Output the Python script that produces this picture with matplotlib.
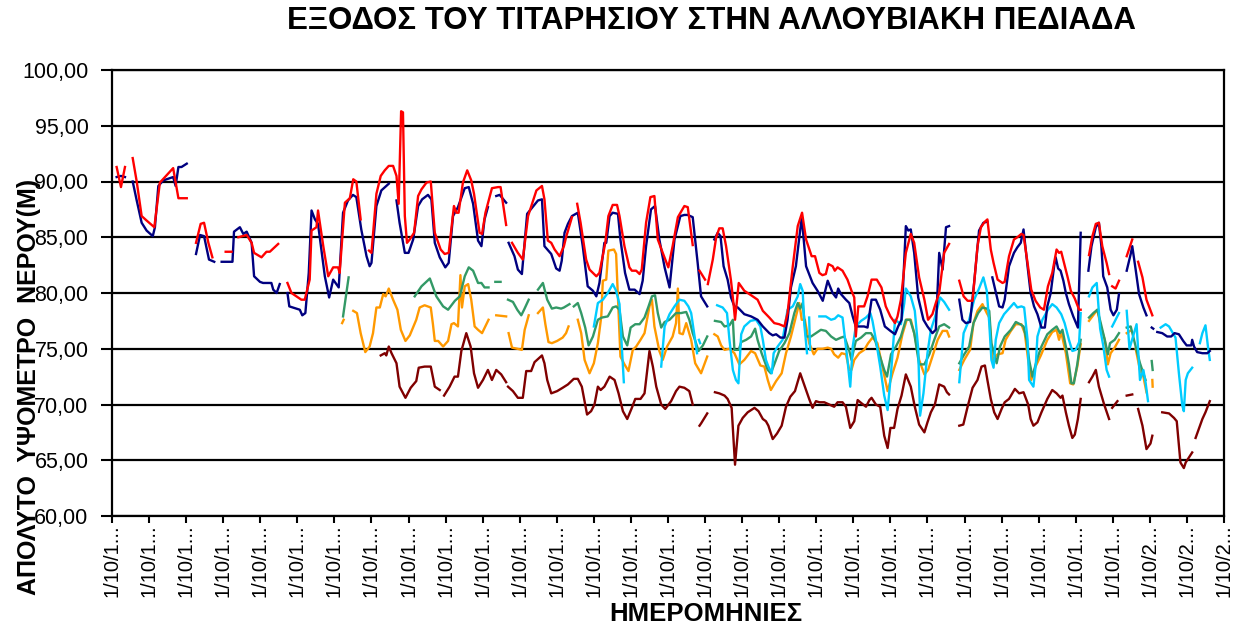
import matplotlib
matplotlib.use("Agg")
import matplotlib.pyplot as plt
import numpy as np

plt.rcParams['font.family'] = ['Liberation Sans', 'DejaVu Sans']

title = "ΕΞΟΔΟΣ ΤΟΥ ΤΙΤΑΡΗΣΙΟΥ ΣΤΗΝ ΑΛΛΟΥΒΙΑΚΗ ΠΕΔΙΑΔΑ"
ylabel = "ΑΠΟΛΥΤΟ  ΥΨΟΜΕΤΡΟ  ΝΕΡΟΥ(Μ)"
xlabel = "ΗΜΕΡΟΜΗΝΙΕΣ"

# time axis: months since 1/10/1972
start_year = 1972
tick_years = list(range(1972, 2003))
ytick_values = [60, 65, 70, 75, 80, 85, 90, 95, 100]
ytick_labels = ["60,00", "65,00", "70,00", "75,00", "80,00", "85,00", "90,00", "95,00", "100,00"]

N = None
# (month, level) pairs; None = gap in record
red = [(1.5,91.3),(2.9,89.5),(4.2,91.3),N,
 (6.7,92.1),(8.0,90.0),(9.6,86.9),(11.2,86.5),(13.7,85.9),(15.5,89.9),(19.8,91.2),(21.5,88.5),(24.2,88.5),N,
 (27.2,84.5),(28.7,86.2),(29.8,86.3),(31.2,84.5),(32.5,83.2),N,
 (36.8,83.7),(38.7,83.7),N,
 (40.9,85.0),(43.6,85.2),(45.2,84.5),(46.0,83.6),(48.4,83.2),(50.0,83.7),(51.1,83.7),(53.8,84.4),N,
 (56.8,80.9),(58.1,80.0),(59.7,79.7),(61.3,79.4),(62.4,79.4),(64.0,81.2),(64.6,85.6),(66.2,85.9),(66.7,87.4),(68.4,84.2),(70.0,81.5),(71.6,82.3),(73.2,82.3),(73.7,81.8),(75.4,88.1),(77.0,88.5),(78.1,90.2),(79.1,90.0),(80.5,86.6),N,
 (83.2,83.8),(84.0,83.6),(85.6,88.9),(87.0,90.5),(88.3,91.0),(89.6,91.4),(91.0,91.4),(92.1,90.5),(92.8,88.0),(93.6,96.3),(94.2,96.2),(94.8,86.9),(95.5,84.5),(96.4,84.8),(97.8,85.4),(99.1,88.7),(100.2,89.3),(101.8,89.9),(103.2,90.0),(104.5,85.4),(106.4,83.9),(107.7,83.5),(109.0,83.6),(110.7,87.8),(111.5,87.2),(112.2,87.2),(113.6,89.9),(115.0,91.0),(116.3,90.1),(117.2,88.9),(119.0,85.4),(119.8,85.3),(120.9,87.2),(123.0,89.4),(125.0,89.5),(125.8,89.5),(127.6,86.1),N,
 (129.5,84.5),(131.4,83.6),(133.0,83.0),(134.7,86.9),(137.4,89.2),(139.2,89.6),(140.0,88.4),(141.1,84.7),(142.2,84.5),(143.3,83.9),(144.9,83.3),(146.3,84.2),(147.0,85.0),(148.9,86.8),N,
 (150.6,88.0),(151.7,86.3),(153.5,83.0),(154.6,82.1),(156.8,81.5),(157.8,81.8),(159.7,84.5),(160.7,86.9),(162.1,87.9),(163.5,87.9),(164.3,86.9),(165.9,84.2),(167.5,82.3),(168.3,82.0),(169.7,82.0),(170.8,81.7),(171.5,82.1),(172.9,86.3),(174.3,88.6),(175.6,88.7),(176.7,84.8),(178.3,83.6),(180.1,82.3),(181.5,84.2),(183.2,86.8),(185.3,87.8),(186.4,87.7),(188.0,84.3),N,
 (190.2,82.0),(192.0,81.2),N,
 (192.9,80.8),(194.5,83.0),(195.6,85.0),(196.6,85.8),(197.7,85.8),(198.8,84.2),(200.4,81.1),(201.3,78.8),(201.7,77.6),(202.9,80.9),(204.7,80.2),(206.9,79.8),(209.0,79.4),(210.7,78.4),(212.8,77.8),(214.4,77.3),(216.0,77.2),(217.7,77.0),(218.7,78.2),(220.4,82.4),(222.0,86.0),(223.4,87.2),(224.7,84.8),(226.5,83.3),(227.6,83.3),(229.0,81.8),(230.0,81.6),(231.1,81.7),(231.9,82.6),(233.3,82.4),(234.0,82.0),(234.9,82.3),(236.5,82.0),(238.1,81.2),(239.4,80.2),(240.3,79.6),(240.8,76.1),(241.6,78.8),(243.5,78.8),(244.6,79.7),(245.9,81.2),(247.6,81.2),(249.1,80.5),(250.5,78.8),(252.0,77.9),(253.5,77.3),(254.3,77.9),(255.4,79.4),(257.0,83.6),(258.6,85.3),(259.7,84.5),(261.3,81.4),(263.0,79.4),(264.2,77.6),(265.6,78.1),(266.7,79.1),(267.8,80.0),(269.4,83.6),(271.0,84.4),N,
 (274.3,81.1),(275.7,79.7),(277.0,79.3),(278.6,79.3),(280.2,84.2),(281.3,85.9),(282.6,86.4),(283.4,86.6),(284.5,83.9),(285.4,82.7),(286.7,81.2),(288.3,80.9),(289.0,81.0),(290.4,83.3),(292.0,84.8),(293.1,85.0),(294.4,85.3),(295.1,85.2),(296.4,82.7),(297.6,80.3),(299.0,79.3),(300.5,78.7),(301.7,78.5),(303.0,80.6),(304.4,81.8),(305.8,83.9),(306.6,83.6),(307.3,83.7),(308.2,82.7),(309.3,81.5),(310.4,80.2),(311.7,79.5),(313.1,78.5),(313.6,78.5),N,
 (316.3,83.4),(317.4,85.1),(318.5,86.2),(319.5,86.3),(320.6,84.2),(322.0,82.7),(322.8,81.7),N,
 (323.8,80.6),(324.9,80.4),(326.0,81.1),N,
 (328.5,83.3),(330.3,84.8),N,
 (332.2,82.8),(333.6,81.4),(334.9,79.4),(336.8,78.0)]

navy = [(1.5,90.4),(2.9,90.5),(4.2,90.4),N,
 (6.7,90.0),(8.0,88.3),(9.6,86.3),(11.2,85.6),(13.2,85.1),(13.9,85.9),(15.0,89.6),(16.6,90.1),(19.8,90.4),(20.6,89.6),(21.5,91.3),(22.5,91.3),(24.2,91.6),N,
 (27.2,83.5),(28.5,85.2),(29.8,85.1),(31.4,83.0),(33.1,82.8),N,
 (35.5,82.8),(39.0,82.8),(39.5,85.5),(41.4,85.9),(42.5,85.3),(43.6,85.5),(45.2,84.5),(46.0,81.5),(47.9,81.0),(48.9,80.9),(51.6,80.9),(52.2,80.3),(53.3,80.0),(54.3,80.8),N,
 (56.8,80.0),(57.4,78.8),(59.7,78.6),(60.8,78.5),(61.6,78.0),(62.6,78.2),(63.7,81.8),(64.6,87.4),(65.7,86.6),(66.7,86.2),(68.9,81.5),(70.3,79.6),(71.6,81.2),(73.4,80.5),(74.8,87.2),(76.4,88.3),(78.0,88.8),(79.1,88.6),(80.7,85.7),(82.4,83.3),(83.4,82.4),(84.0,82.7),(85.6,87.8),(87.2,89.2),(89.6,89.8),N,
 (92.1,88.3),(93.1,86.3),(94.8,83.6),(96.0,83.6),(97.5,84.8),(99.1,87.8),(100.4,88.4),(102.3,88.8),(103.4,88.4),(104.5,84.5),(106.1,83.2),(107.9,82.3),(109.0,82.7),(110.4,86.9),(112.0,87.7),(114.2,89.4),(115.5,89.5),(116.9,88.0),(118.5,84.7),(119.6,84.2),(120.6,86.6),(121.7,87.7),N,
 (124.4,88.7),(125.5,88.8),(127.6,88.1),N,
 (128.4,84.5),(130.3,83.3),(131.4,82.1),(132.7,81.7),(134.4,87.1),(137.9,88.3),(139.2,88.4),(140.0,84.2),(142.2,83.5),(143.8,82.2),(144.9,82.0),(145.6,82.9),(146.5,85.4),(147.6,86.2),(148.9,86.9),(150.8,87.2),(152.4,84.2),(154.0,80.6),(155.7,80.2),(156.8,79.7),(157.8,80.9),(159.4,84.5),(160.0,84.5),(161.1,86.9),(162.1,87.2),(163.8,87.1),(164.6,84.8),(166.1,81.8),(167.5,80.3),(169.2,80.3),(170.8,79.9),(171.8,81.1),(172.9,84.2),(174.5,87.5),(175.8,87.8),(177.2,84.8),(178.9,82.3),(180.5,80.5),(182.1,84.8),(184.0,86.9),(185.3,87.0),(186.4,87.0),(188.0,86.8),(189.6,82.7),(190.7,79.7),(192.7,78.8),N,
 (195.0,84.8),(196.1,85.4),(197.0,85.1),(198.0,82.4),(199.3,81.2),(200.4,79.6),(201.5,78.8),(202.6,78.7),(204.7,78.1),(206.9,77.9),(209.0,77.6),(210.7,77.0),(212.8,76.4),(213.9,76.2),(215.0,76.3),(216.4,76.0),(217.7,76.0),(218.7,77.6),(219.8,80.5),(221.4,82.4),(223.3,86.8),(224.7,82.4),(226.8,80.9),(228.4,80.2),(230.1,79.3),(231.7,81.1),(233.3,80.0),(234.4,79.6),(235.1,80.4),(236.0,79.9),(237.6,79.4),(238.7,79.1),(239.8,77.9),(240.8,77.0),(241.9,77.0),(243.5,77.0),(244.6,76.9),(245.9,79.4),(247.3,79.4),(248.7,78.5),(250.2,77.0),(252.0,76.6),(253.5,76.3),(254.5,77.0),(255.6,77.6),(257.0,86.0),(257.8,85.6),(258.6,85.7),(259.7,83.6),(261.0,79.6),(262.7,77.6),(264.0,77.0),(265.6,76.4),(266.7,76.7),(267.8,83.6),(268.9,82.1),(270.0,85.9),(271.0,86.0),N,
 (274.3,79.4),(275.3,77.6),(276.4,77.3),(277.8,77.4),(279.1,80.9),(280.7,85.6),(282.1,86.3),(283.4,86.4),N,
 (285.0,81.4),(287.2,78.8),(288.3,78.7),(289.0,79.4),(290.4,82.4),(292.0,83.6),(293.1,84.1),(294.2,84.5),(295.1,85.7),(296.4,82.4),(297.4,80.0),(298.5,78.8),(299.6,78.1),(300.9,76.9),(302.0,76.9),(302.8,78.8),(303.9,80.0),(305.0,82.4),(305.5,83.2),(306.3,82.2),(307.1,82.0),(308.0,81.1),(308.8,80.0),(309.8,79.0),(311.2,77.9),(312.7,76.9),(313.6,85.4),N,
 (316.1,82.0),(317.1,84.2),(318.5,85.9),(319.5,86.3),(320.3,84.2),(320.9,81.5),(322.2,80.5),(323.3,78.5),(324.2,78.0),(325.3,78.5),(326.0,79.9),N,
 (328.5,82.0),(329.8,83.5),(330.3,84.2),(331.4,82.1),(332.5,79.9),(333.9,78.7),(334.9,78.0),N,
 (336.6,76.9),(337.1,76.8),N,
 (338.4,76.5),(340.0,76.4),(341.6,76.1),(342.9,76.1),(344.0,76.4),(345.4,76.3),(346.8,75.7),(347.9,75.3),(349.4,75.3),(349.7,75.8),(350.3,75.2),(351.3,74.7),(353.0,74.6),(354.6,74.6),(355.4,74.8)]

green = [(74.8,77.9),(76.6,81.4),N,
 (98.0,79.7),(100.2,80.6),(102.9,81.3),(105.0,79.7),(107.2,78.8),(108.8,78.5),(111.0,79.3),(112.6,79.7),(114.2,81.5),(115.5,82.3),(116.9,82.0),(118.5,80.9),(119.6,80.9),(120.6,80.5),(121.9,80.5),N,
 (124.1,81.0),(125.8,81.0),N,
 (128.2,79.4),(129.8,79.2),(131.2,78.5),(132.5,78.0),(133.4,78.5),(134.9,79.4),N,
 (137.9,80.3),(139.5,80.9),(140.9,79.4),(142.4,78.6),(143.8,78.7),(145.4,78.6),(146.3,78.7),(148.1,79.0),N,
 (149.5,78.8),(150.8,79.1),(151.9,78.2),(153.2,76.9),(154.3,75.3),(155.7,76.1),(157.3,77.6),(158.6,77.8),(160.5,77.9),(162.1,78.7),(163.2,78.8),(164.3,78.5),(165.4,76.1),(166.8,75.3),(167.9,76.9),(169.4,77.2),(170.8,77.2),(172.4,77.8),(173.7,78.8),(174.8,79.7),(175.8,79.8),(176.7,78.2),(177.8,76.9),(178.9,77.4),(180.5,77.6),(182.6,78.2),(184.2,78.2),(185.9,78.3),(186.9,77.6),(188.0,76.4),(189.9,74.8),(191.3,75.3),(192.7,76.1),N,
 (195.2,77.5),(197.2,77.4),(198.3,77.0),(199.9,77.1),(201.0,77.6),(201.5,74.9),(202.9,74.9),(203.7,75.6),(205.3,75.8),(206.9,76.1),(208.2,76.8),(209.0,75.8),(210.3,74.6),(212.3,73.1),(213.3,72.8),(214.4,73.6),(216.0,74.8),(217.7,75.5),(219.3,76.4),(220.9,78.2),(222.0,79.1),(222.8,78.6),(223.6,79.1),(224.7,76.1),(226.3,76.1),(227.9,76.4),(229.5,76.7),(231.1,76.6),(232.8,76.1),(234.4,75.8),(236.0,76.0),(237.1,76.1),(238.7,74.8),(239.4,74.0),(240.8,75.7),(242.5,76.0),(244.1,76.4),(245.7,76.4),(247.0,75.8),(248.4,74.5),(250.0,73.1),(250.9,72.5),(252.2,74.5),(253.8,75.2),(255.4,76.1),(257.0,77.6),(258.4,77.6),(259.7,76.4),(261.3,73.6),(263.0,73.6),(264.6,74.5),(266.2,75.8),(267.8,77.0),(269.4,77.2),(271.0,76.9),N,
 (274.3,73.7),(275.9,74.5),(277.5,75.2),(278.9,77.3),(280.4,78.2),(281.8,78.7),(283.2,78.6),(284.0,78.4),(284.7,75.5),(286.4,73.7),(287.5,75.2),(289.0,76.1),(291.0,76.7),(292.6,77.4),(294.0,77.2),(295.1,77.0),(296.1,75.8),(296.9,74.0),(298.0,72.5),(299.4,74.0),(300.9,75.2),(302.8,76.3),(304.4,76.7),(305.8,77.0),(306.9,76.4),(307.7,76.7),(308.8,75.2),(309.8,73.6),(310.6,71.9),(311.4,71.9),(312.5,73.6),(313.6,75.8),N,
 (316.3,77.8),(317.7,78.2),(319.0,78.5),(320.1,77.3),(321.4,75.8),(322.4,74.5),(323.1,75.5),(324.6,75.8),(326.0,76.4),N,
 (328.5,76.9),(329.8,77.0),(331.4,75.2),(332.8,73.7),(333.9,72.8),(334.6,72.2),N,
 (336.6,73.9),(336.9,73.1)]

orange = [(74.5,77.3),(75.0,77.6),N,
 (78.1,78.4),(79.3,78.2),(80.5,76.4),(82.0,74.7),(83.4,75.2),(84.5,76.4),(85.6,78.7),(86.7,78.7),(87.8,79.9),(88.6,79.7),(89.6,80.4),(91.0,79.4),(92.4,78.5),(93.5,76.7),(95.0,75.7),(96.4,76.2),(98.5,77.6),(99.6,78.7),(101.2,78.9),(103.2,78.7),(103.9,77.2),(104.5,75.7),(105.6,75.7),(107.2,75.2),(108.8,75.7),(109.9,77.2),(110.7,77.3),(112.0,77.0),(112.8,81.6),(113.3,78.7),(114.2,80.6),(115.3,80.8),(116.3,79.4),(117.4,77.0),(118.5,76.7),(119.8,76.4),(121.9,77.6),N,
 (124.4,78.0),(127.6,77.9),N,
 (128.4,76.4),(129.5,75.1),(131.2,75.0),(132.7,74.9),(133.6,76.7),(134.9,78.0),N,
 (137.9,78.2),(139.5,78.7),(140.3,77.2),(141.3,75.6),(142.4,75.5),(144.1,75.7),(145.9,76.0),(147.0,76.4),(147.8,77.0),N,
 (150.8,77.6),(151.9,76.4),(153.0,74.0),(154.6,72.8),(156.0,73.7),(157.3,75.5),(158.4,77.9),(158.9,81.1),(160.0,81.2),(160.7,83.8),(162.5,83.9),(163.2,83.5),(164.0,78.2),(164.6,74.3),(165.9,73.6),(167.2,73.0),(168.6,74.9),(169.7,75.2),(171.1,75.8),(172.4,76.4),(174.0,78.8),(174.8,79.4),(175.6,77.0),(177.2,74.8),(178.3,74.0),(179.7,75.2),(181.5,76.1),(182.6,77.3),(183.2,80.4),(183.7,76.4),(184.8,76.3),(185.9,77.3),(187.5,75.8),(188.8,73.7),(190.7,72.8),(192.7,74.3),N,
 (195.0,76.3),(196.1,76.1),(197.2,75.3),(198.3,74.9),(199.9,75.0),(201.5,74.6),(203.1,73.6),(204.7,74.0),(206.9,74.8),(208.2,74.6),(209.9,73.5),(211.2,73.4),(212.3,72.2),(213.3,71.3),(215.0,72.1),(216.8,72.8),(218.2,74.6),(219.8,76.1),(221.4,77.9),(222.5,79.1),(223.3,77.6),(224.3,77.6),(225.7,75.5),(227.2,74.5),(228.4,75.0),(230.1,75.0),(231.7,75.1),(232.8,75.0),(233.8,74.5),(235.1,74.2),(236.2,74.6),(237.6,74.5),(238.7,73.1),(239.4,73.1),(240.3,74.0),(241.9,74.6),(243.5,74.9),(244.8,75.5),(246.2,76.0),(247.8,75.5),(249.5,73.3),(251.1,71.2),(252.7,72.8),(254.3,74.2),(255.9,76.3),(257.3,77.6),(258.6,77.6),(259.9,76.2),(261.3,74.0),(263.0,72.7),(264.2,73.1),(265.6,74.3),(267.3,75.8),(268.9,76.6),(270.3,76.6),(271.0,76.1),N,
 (274.3,73.1),(275.9,74.0),(277.8,74.9),(278.9,77.3),(280.2,78.4),(281.8,79.0),(283.2,78.2),(284.0,77.8),(285.0,74.0),(286.7,74.5),(288.3,74.6),(289.3,75.8),(291.0,76.6),(292.6,77.2),(294.4,77.2),(295.5,76.4),(296.6,74.0),(297.6,72.2),(299.0,73.4),(300.7,74.4),(302.8,75.8),(304.4,76.5),(305.8,76.7),(306.6,75.8),(307.3,76.5),(308.8,74.6),(310.2,71.9),(311.2,71.8),(312.5,73.4),(313.6,75.4),N,
 (316.3,77.5),(317.9,78.1),(319.0,78.5),(320.1,77.0),(321.4,75.8),(322.4,73.6),(323.3,74.6),(324.6,75.1),(326.0,75.8),N,
 (328.5,76.4),(329.6,76.6),N,
 (331.4,75.0),(332.8,73.1),(333.9,72.5),(334.9,71.1),N,
 (336.8,72.2),(336.9,71.6)]

cyan = [(156.0,77.0),(157.3,79.1),(158.9,79.4),(160.5,80.0),(162.1,80.8),(163.2,80.2),(164.3,79.0),(164.8,76.4),(165.7,72.0),N,
 (177.8,73.4),(178.9,77.0),(180.5,78.1),(182.1,78.8),(183.7,79.4),(185.3,79.3),(186.6,78.8),(187.5,78.2),(188.6,76.1),(189.4,74.6),N,
 (190.0,75.8),(190.4,75.5),N,
 (195.9,78.9),(197.7,78.7),(199.1,78.2),(199.9,75.8),(201.0,73.1),(202.0,72.2),(202.8,71.9),(203.7,76.3),(204.7,77.0),(206.7,77.5),(208.5,77.6),(209.9,77.0),(210.7,75.8),(211.7,74.0),(212.5,73.4),(213.6,72.8),(214.2,74.6),(215.5,75.2),(217.1,75.8),(218.7,78.5),(220.4,78.8),(222.0,79.7),(222.8,80.8),(223.6,80.2),(224.1,77.3),(225.0,74.6),N,
 (225.7,77.8),(226.0,74.9),N,
 (229.0,77.9),(231.1,77.9),(232.8,77.6),(234.0,77.7),(235.1,78.0),(236.5,77.8),(237.1,76.4),(238.1,74.0),(239.0,71.6),(239.8,75.2),(240.8,77.0),(242.5,77.5),(244.1,77.8),(245.5,78.2),(246.2,77.5),(247.3,75.8),(248.7,73.4),(250.0,70.8),(251.1,69.5),(252.2,72.8),(253.5,77.6),(255.4,77.2),(256.5,79.1),(257.0,80.4),(258.6,79.7),(259.9,78.4),(261.0,75.0),(261.6,69.0),(262.7,71.0),(264.0,74.6),(265.1,76.7),(266.4,77.8),(268.1,79.6),(269.4,79.2),(271.0,78.5),N,
 (274.3,72.0),(275.7,76.4),(277.5,77.6),(279.1,79.4),(280.7,80.4),(282.1,81.4),(283.2,80.2),(284.0,77.3),(284.7,74.0),(285.4,73.3),(286.1,75.8),(287.2,77.3),(288.8,78.1),(290.4,78.6),(292.0,79.1),(293.1,78.7),(294.4,78.8),(295.3,78.7),(296.4,75.8),(296.9,72.2),(298.3,71.6),(299.1,73.7),(299.6,76.1),(301.2,77.6),(303.0,78.5),(304.4,79.0),(305.8,78.7),(307.3,78.1),(308.4,77.3),(309.8,75.8),(310.9,74.8),(312.0,74.9),(313.1,75.6),(313.6,78.2),N,
 (316.3,79.7),(317.4,80.5),(318.8,80.9),(319.9,76.8),(320.9,75.3),(322.0,73.1),(322.8,72.5),N,
 (323.8,77.0),(326.0,78.2),N,
 (328.5,78.4),(329.4,75.0),(331.7,77.2),(332.8,72.2),(333.9,73.1),(334.6,72.0),(335.4,70.3),N,
 (339.5,76.9),(341.1,77.2),(342.2,77.0),(344.3,76.0),(345.4,72.8),(346.5,69.9),(347.0,69.4),(347.6,72.2),(348.3,72.8),(349.7,73.3),N,
 (352.2,75.5),(353.0,76.4),(354.0,77.1),(354.8,75.2),(355.4,74.0)]

darkred = [(87.0,74.4),(88.3,74.6),(88.8,74.4),(89.6,75.2),(90.5,74.6),(92.1,73.7),(93.1,71.6),(95.0,70.6),(96.7,71.5),(98.5,72.1),(99.3,73.3),(101.2,73.4),(103.2,73.4),(104.5,71.6),(106.1,71.3),N,
 (107.5,70.8),(109.3,71.6),(110.9,72.5),(112.0,72.5),(113.1,74.8),(114.7,76.4),(116.1,75.2),(117.2,72.8),(118.5,71.5),(120.1,72.2),(121.7,73.1),(123.0,72.2),(124.4,73.1),(126.0,72.7),(127.6,72.0),N,
 (128.2,71.6),(129.8,71.2),(131.4,70.6),(133.0,70.6),(134.1,73.0),(135.7,73.0),(136.8,73.8),(139.2,74.4),(140.0,73.7),(140.9,72.2),(142.2,71.0),(144.1,71.2),(145.9,71.5),(147.6,71.8),(149.5,72.3),(150.8,72.3),(152.1,71.6),(153.8,69.1),(155.1,69.4),(156.2,70.0),(157.3,71.6),(158.2,71.3),(159.4,71.6),(161.1,72.5),(162.7,72.2),(164.0,71.0),(165.4,69.4),(166.8,68.7),(168.3,69.7),(169.4,70.5),(171.1,70.5),(172.4,71.0),(174.0,74.8),(175.1,73.4),(176.2,71.6),(177.8,70.0),(179.1,69.6),(181.0,70.3),(182.6,71.2),(183.7,71.6),(185.3,71.5),(186.9,71.2),(188.0,70.0),N,
 (190.2,68.1),(190.7,68.3),(192.7,69.2),N,
 (195.2,71.1),(196.6,71.0),(198.3,70.8),(199.3,70.5),(200.6,69.7),(201.7,64.6),(202.8,68.1),(204.2,68.8),(205.8,69.3),(208.0,69.7),(209.3,69.4),(210.7,68.7),(211.7,68.5),(212.5,68.1),(213.9,66.9),(215.3,67.4),(216.8,68.1),(218.2,69.8),(219.6,70.7),(221.1,71.2),(222.8,72.8),(224.3,71.6),(225.7,70.5),(226.8,69.7),(227.9,70.3),(229.0,70.2),(230.6,70.2),(232.2,70.0),(233.8,69.8),(234.9,70.2),(236.5,70.2),(237.6,69.8),(239.0,67.9),(240.3,68.5),(241.4,70.4),(242.7,70.1),(244.1,69.8),(245.2,70.4),(245.9,70.6),(247.3,70.0),(248.7,69.8),(250.0,67.2),(251.1,66.1),(252.0,67.9),(253.2,67.9),(254.3,69.6),(255.6,70.8),(257.0,72.7),(258.6,71.6),(259.9,69.8),(261.3,68.2),(263.0,67.5),(264.0,68.4),(265.1,69.3),(266.4,70.0),(267.8,71.8),(269.4,71.6),(270.3,71.1),(271.0,70.9),N,
 (274.3,68.1),(275.6,68.2),(277.0,69.8),(278.6,71.5),(280.2,72.2),(281.5,73.4),(282.6,73.5),(283.4,72.2),(284.5,70.5),(285.6,69.3),(286.7,68.7),(288.0,69.6),(289.0,70.2),(290.4,70.5),(292.3,71.4),(293.7,71.0),(295.1,71.1),(296.6,70.0),(297.4,68.7),(298.3,68.1),(299.6,68.4),(300.9,69.3),(302.8,70.5),(304.4,71.3),(305.8,71.0),(307.1,70.6),(307.7,70.8),(308.8,69.3),(309.8,68.1),(310.9,67.0),(311.7,67.3),(312.7,68.7),(313.6,70.5),N,
 (316.3,72.0),(317.4,72.5),(318.5,73.1),(319.5,71.6),(321.2,70.0),(322.8,68.7),N,
 (323.8,69.7),(325.5,70.3),N,
 (328.5,70.8),(330.3,70.9),N,
 (332.2,69.6),(333.6,68.1),(334.9,66.0),(336.2,66.5),(336.8,67.2),N,
 (340.0,69.3),(342.2,69.2),(343.8,68.8),(344.7,68.5),(345.9,64.8),(347.0,64.3),(347.6,64.8),(349.7,65.7),N,
 (350.8,67.0),(352.2,68.1),(353.0,68.7),(354.0,69.3),(355.4,70.3)]

series = [
    (darkred, "#800000"),
    (orange, "#FF9900"),
    (green, "#339966"),
    (cyan, "#00CCFF"),
    (navy, "#000080"),
    (red, "#FF0000"),
]

def split(pairs):
    xs = [p[0] if p is not None else np.nan for p in pairs]
    ys = [p[1] if p is not None else np.nan for p in pairs]
    return np.array(xs, dtype=float), np.array(ys, dtype=float)

narrow = ['Liberation Sans Narrow', 'Liberation Sans', 'DejaVu Sans']

fig = plt.figure(figsize=(12.53, 6.27), dpi=100)
ax = fig.add_axes([112/1253, 1 - 516/627, (1224 - 112)/1253, (516 - 70)/627])

for yv in ytick_values:
    ax.axhline(yv, color="black", lw=1.6, zorder=1)

for pairs, col in series:
    x, y = split(pairs)
    ax.plot(x, y, color=col, lw=1.7, zorder=3, solid_joinstyle="round")

n_years = tick_years[-1] - tick_years[0]
ax.set_xlim(0, 12 * n_years)
ax.set_ylim(60, 100)
ax.set_xticks([12 * (y - start_year) for y in tick_years])
ax.set_xticklabels([f"1/10/{str(y)[0]}..." for y in tick_years], rotation=90, fontsize=14.5)
ax.set_yticks(ytick_values)
ax.set_yticklabels(ytick_labels, fontsize=15.5, family=narrow)
ax.tick_params(axis="y", direction="out", length=8, width=1.5, pad=9)
ax.tick_params(axis="x", direction="out", length=5, width=1.5, pad=1)
for s in ax.spines.values():
    s.set_linewidth(1.6)
    s.set_color("black")

fig.text(0.568, 0.966, title, ha="center", va="center", fontsize=22.5, fontweight="bold")
fig.text(0.023, 0.383, ylabel, ha="center", va="center", rotation=90, fontsize=18, fontweight="bold", family=narrow)
fig.text(0.563, 0.021, xlabel, ha="center", va="center", fontsize=18.5, fontweight="bold")

fig.savefig("out.png", dpi=100)
